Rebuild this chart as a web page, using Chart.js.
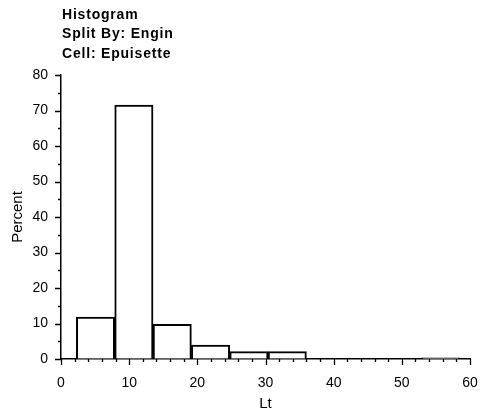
<!DOCTYPE html>
<html><head><meta charset="utf-8">
<script src="https://cdn.jsdelivr.net/npm/chart.js@4"></script>
<style>html,body{margin:0;padding:0;background:#fff}#wrap{width:485px;height:414px}</style>
</head><body><div id="wrap"><canvas id="c" width="485" height="414"></canvas></div>
<script>
const titleLines = ["Histogram", "Split By: Engin", "Cell: Epuisette"];
const binStart = [2.25, 7.88, 13.5, 19.13, 24.75, 30.38, 52.88];
const binEnd   = [7.88, 13.5, 19.13, 24.75, 30.38, 36.0, 58.5];
const percent  = [11.8, 71.5, 9.8, 3.9, 2.1, 2.1, 0.3];
const xAxisTitle = "Lt";
const yAxisTitle = "Percent";
const xRange = [0, 60];
const yRange = [0, 80];
const xMajorStep = 10, xMinorStep = 2;
const yMajorStep = 10, yMinorStep = 5;

const points = binStart.map((s, i) => ({ x: (s + binEnd[i]) / 2, y: percent[i] }));

const FONT = '"Liberation Sans", Arial, Helvetica, sans-serif';

const decor = {
  id: 'decor',
  afterDraw(chart) {
    const ctx = chart.ctx;
    const xs = chart.scales.x, ys = chart.scales.y;
    const ca = chart.chartArea;
    ctx.save();
    ctx.strokeStyle = '#000';
    ctx.lineWidth = 1.3;
    ctx.beginPath();
    for (let v = xRange[0]; v <= xRange[1] + 1e-9; v += xMinorStep) {
      const px = Math.round(xs.getPixelForValue(v)) + 0.5;
      const len = (Math.abs(v % xMajorStep) < 1e-9) ? 6 : 3;
      ctx.moveTo(px, ca.bottom);
      ctx.lineTo(px, ca.bottom + len);
    }
    for (let v = yRange[0]; v <= yRange[1] + 1e-9; v += yMinorStep) {
      const py = Math.round(ys.getPixelForValue(v)) + 0.5;
      const len = (Math.abs(v % yMajorStep) < 1e-9) ? 6 : 3;
      ctx.moveTo(ca.left, py);
      ctx.lineTo(ca.left - len, py);
    }
    ctx.stroke();
    // title
    ctx.fillStyle = '#000';
    ctx.font = 'bold 14px ' + FONT;
    try { ctx.letterSpacing = '0.8px'; } catch (e) {}
    ctx.textBaseline = 'alphabetic';
    ctx.textAlign = 'left';
    const baselines = [19, 38, 58];
    titleLines.forEach((t, i) => ctx.fillText(t, ca.left + 1, baselines[i]));
    ctx.restore();
  }
};

new Chart(document.getElementById('c'), {
  type: 'bar',
  data: {
    datasets: [{
      data: points,
      backgroundColor: '#fff',
      borderColor: '#000',
      borderWidth: 2,
      borderSkipped: 'start',
      barPercentage: 1,
      categoryPercentage: 1,
      grouped: false
    }]
  },
  options: {
    responsive: false,
    devicePixelRatio: 1,
    animation: false,
    layout: { padding: { top: 75, right: 15, left: 0, bottom: 0 } },
    plugins: { legend: { display: false }, tooltip: { enabled: false }, title: { display: false } },
    scales: {
      x: {
        type: 'linear',
        min: xRange[0], max: xRange[1],
        offset: false,
        afterFit: (s) => { s.height = 55; s.paddingRight = 0; s.paddingLeft = 0; },
        grid: { display: true, drawOnChartArea: false, drawTicks: false, offset: false },
        border: { display: true, color: '#000', width: 1.5 },
        ticks: { stepSize: xMajorStep, padding: 16, color: '#000', font: { family: FONT, size: 14 }, maxRotation: 0 },
        title: { display: true, text: xAxisTitle, color: '#000', font: { family: FONT, size: 15 }, padding: { top: 0, bottom: 1 } }
      },
      y: {
        type: 'linear',
        min: yRange[0], max: yRange[1],
        afterFit: (s) => { s.width = 61; s.paddingTop = 0; s.paddingBottom = 0; },
        grid: { display: true, drawOnChartArea: false, drawTicks: false },
        border: { display: true, color: '#000', width: 1.5 },
        ticks: { stepSize: yMajorStep, padding: 13, color: '#000', font: { family: FONT, size: 14 } },
        title: { display: true, text: yAxisTitle, color: '#000', font: { family: FONT, size: 15 }, padding: { top: 9, bottom: 0 } }
      }
    }
  },
  plugins: [decor]
});
</script>
</body></html>
